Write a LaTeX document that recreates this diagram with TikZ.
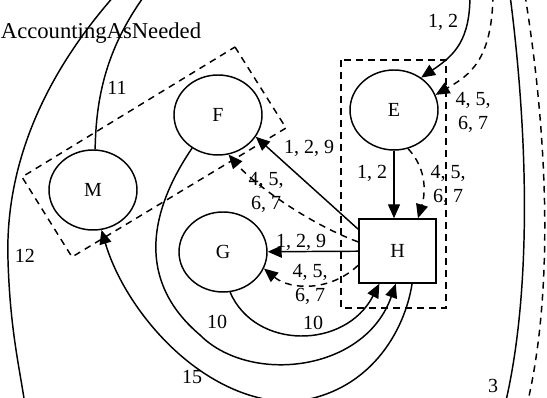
\documentclass[tikz,border=0pt]{standalone}
\usepackage{fontspec}
\setmainfont{Liberation Serif}
\usetikzlibrary{arrows.meta,shapes.geometric}
\tikzset{
  state/.style={ellipse, draw=black, line width=1.1pt, minimum width=66pt, minimum height=60pt,
    inner sep=0pt, font=\fontsize{15}{18}\selectfont},
  hub/.style={rectangle, draw=black, line width=1.1pt, minimum width=58pt, minimum height=48pt,
    inner sep=0pt, font=\fontsize{15}{18}\selectfont},
  grp/.style={draw=black, line width=1.1pt, dash pattern=on 5pt off 4pt},
  elbl/.style={align=center, inner sep=0pt, font=\fontsize{15}{18}\selectfont},
  wire/.style={draw=black, line width=1.1pt},
  dwire/.style={wire, dash pattern=on 5pt off 4pt},
  flow/.style={wire, -{Triangle[length=10.5pt,width=9pt]}},
  dflow/.style={flow, dash pattern=on 5pt off 4pt},
}

\begin{document}
\begin{tikzpicture}[x=0.75pt, y=-0.75pt]
\useasboundingbox (0,0) rectangle (547,398);
\clip (0,0) rectangle (547,398);
% ---- clusters ----
\draw[grp] (341,60) rectangle (446,308);
\draw[grp] (235,47) -- (286,128) -- (72,257) -- (22,177) -- cycle;
% ---- states ----
\node[state] (E) at (394,110) {E};
\node[state] (F) at (218,115) {F};
\node[state] (M) at (93,190) {M};
\node[state] (G) at (223,252) {G};
\node[hub] (H) at (397.5,251) {H};
\node[elbl, font=\fontsize{17}{20}\selectfont] (acct) at (101,33) {AccountingAsNeeded};
% ---- loose ends outside the frame ----
\coordinate (topA) at (470,-5);
\coordinate (topB) at (493,-5);
\coordinate (topM) at (145,-5);
\coordinate (topL) at (115,-5);
\coordinate (botL) at (25,405);
\coordinate (topR) at (510,-5);
\coordinate (botR) at (505,405);
\coordinate (topRd) at (525,-5);
\coordinate (botRd) at (527,405);
% ---- into E ----
\draw[flow] (topA) .. controls (470,40) and (455,55) .. (E.50);
\draw[dflow] (topB) .. controls (492,60) and (470,75) .. (E.20);
\node[elbl] at (443,22) {1, 2};
\node[elbl] at (473,112) {4, 5,\\6, 7};
% ---- E to H ----
\draw[flow] (E.south) -- (E.south |- H.north);
\draw[dflow] (E.-70) .. controls (428,170) and (425,195) .. (H.58);
\node[elbl] at (372,173) {1, 2};
\node[elbl] at (448,185) {4, 5,\\6, 7};
% ---- H to F and G ----
\draw[flow] (H.151) -- (F.-30);
\draw[dflow] (H.167) .. controls (305,222) and (252,182) .. (F.-75);
\node[elbl] at (309,148) {1, 2, 9};
\node[elbl] at (266,192) {4, 5,\\6, 7};
\draw[flow] (H) -- (G);
\draw[dflow] (H.200) .. controls (330,292) and (290,290) .. (G.-22);
\node[elbl] at (301,242) {1, 2, 9};
\node[elbl] at (310,284) {4, 5,\\6, 7};
% ---- into H from below ----
\draw[flow] (G.-80) .. controls (255,350) and (345,350) .. (H.-119);
\draw[flow] (F.-128) .. controls (150,210) and (135,280) .. (200,335)
  .. controls (250,385) and (365,372) .. (H.-93);
\node[elbl] at (217,322) {10};
\node[elbl] at (313,323) {10};
% ---- H back to M ----
\draw[flow] (H.-66) .. controls (405,330) and (370,395) .. (290,402)
  .. controls (200,400) and (125,310) .. (M.-78);
\node[elbl] at (192,377) {15};
% ---- edges leaving the frame ----
\draw[wire] (M.87) .. controls (96,100) and (105,50) .. (topM);
\node[elbl] at (117,88) {11};
\draw[wire] (topL) .. controls (40,80) and (5,170) .. (8,260) .. controls (10,330) and (20,370) .. (botL);
\node[elbl] at (25,256) {12};
\draw[wire] (topR) .. controls (530,150) and (530,300) .. (botR);
\draw[dwire] (topRd) .. controls (550,150) and (552,300) .. (botRd);
\node[elbl] at (493,386) {3};
\end{tikzpicture}
\end{document}
